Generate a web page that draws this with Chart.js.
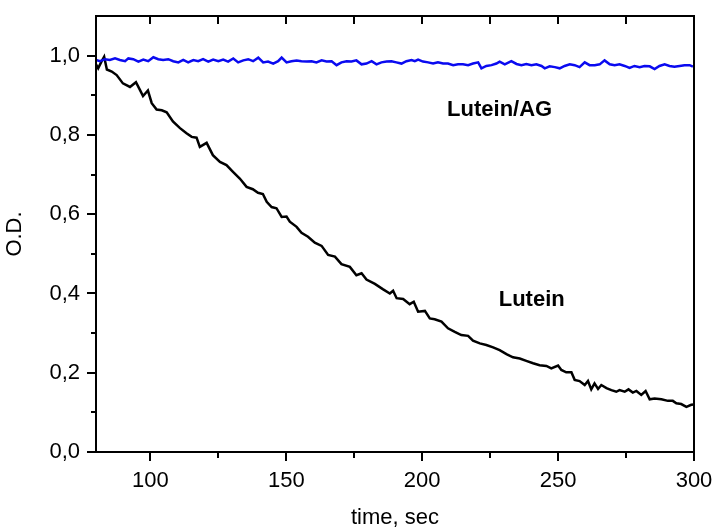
<!DOCTYPE html>
<html>
<head>
<meta charset="utf-8">
<script src="https://cdn.jsdelivr.net/npm/chart.js@4/dist/chart.umd.min.js"></script>
<style>
  body { margin: 0; background: #fff; }
  canvas { display: block; }
</style>
</head>
<body>
<canvas id="chart" width="716" height="531"></canvas>
<script>
// Lutein (black) - time in sec, optical density
var luteinTime = [80.0, 80.8, 82.0, 83.0, 84.0, 85.8, 87.6, 89.9, 92.5, 94.7, 96.2, 97.3, 99.1, 100.5, 102.3, 104.2, 106.0, 108.3, 110.9, 113.3, 115.2, 117.0, 118.2, 120.7, 123.0, 125.6, 128.0, 130.4, 132.9, 135.4, 137.7, 139.6, 141.4, 142.8, 144.6, 146.4, 148.3, 150.1, 151.3, 153.8, 155.6, 158.0, 160.5, 163.0, 165.4, 167.9, 170.3, 173.4, 175.8, 177.7, 179.5, 182.6, 185.5, 188.1, 189.3, 190.6, 193.0, 195.4, 196.9, 198.5, 201.0, 202.8, 204.6, 207.1, 209.5, 212.0, 214.4, 216.9, 218.7, 221.2, 223.6, 226.1, 228.5, 231.0, 233.4, 235.9, 238.3, 240.8, 243.2, 245.7, 247.5, 250.0, 251.2, 253.0, 254.9, 256.1, 257.9, 259.8, 261.0, 262.2, 263.4, 264.7, 265.9, 267.8, 269.6, 271.4, 272.6, 274.5, 275.9, 277.5, 278.8, 280.6, 282.2, 283.7, 285.5, 288.0, 290.4, 292.2, 293.5, 295.3, 297.2, 299.0, 300.0]
var luteinOD = [0.978, 0.968, 0.985, 0.997, 0.965, 0.960, 0.951, 0.930, 0.921, 0.933, 0.913, 0.898, 0.912, 0.880, 0.864, 0.862, 0.857, 0.834, 0.817, 0.804, 0.795, 0.793, 0.770, 0.780, 0.749, 0.732, 0.724, 0.707, 0.690, 0.669, 0.663, 0.654, 0.651, 0.631, 0.618, 0.615, 0.593, 0.594, 0.581, 0.568, 0.553, 0.543, 0.528, 0.520, 0.497, 0.493, 0.474, 0.467, 0.446, 0.451, 0.435, 0.424, 0.411, 0.400, 0.407, 0.388, 0.386, 0.373, 0.379, 0.354, 0.356, 0.337, 0.335, 0.329, 0.312, 0.303, 0.295, 0.293, 0.281, 0.274, 0.270, 0.264, 0.257, 0.247, 0.239, 0.236, 0.230, 0.224, 0.219, 0.217, 0.211, 0.218, 0.207, 0.201, 0.201, 0.182, 0.179, 0.169, 0.179, 0.158, 0.173, 0.159, 0.169, 0.161, 0.156, 0.152, 0.156, 0.152, 0.158, 0.150, 0.154, 0.144, 0.154, 0.133, 0.135, 0.133, 0.129, 0.129, 0.123, 0.121, 0.114, 0.119, 0.120]

// Lutein/AG (blue)
var agTime = [80.0, 81.5, 83.3, 85.1, 87.0, 88.8, 90.7, 91.9, 93.7, 95.6, 97.4, 99.2, 101.1, 102.9, 104.7, 106.6, 108.4, 110.3, 112.1, 113.9, 115.8, 117.6, 119.4, 121.3, 123.1, 125.0, 126.8, 128.6, 130.5, 132.3, 134.2, 136.0, 137.8, 139.7, 141.5, 143.3, 145.2, 147.0, 148.3, 150.1, 151.9, 153.8, 155.6, 157.5, 159.3, 161.1, 163.0, 164.8, 166.7, 168.5, 170.3, 172.2, 174.0, 175.8, 177.7, 179.5, 181.4, 183.2, 185.0, 186.9, 188.7, 190.5, 192.4, 194.2, 196.1, 197.3, 198.5, 200.3, 202.2, 204.0, 205.8, 207.7, 209.5, 211.4, 213.2, 215.0, 216.9, 218.7, 220.6, 221.8, 223.6, 225.5, 227.3, 228.5, 230.4, 232.8, 234.7, 236.5, 238.3, 240.2, 242.0, 243.9, 245.1, 246.9, 248.8, 250.6, 252.4, 254.3, 256.1, 257.9, 259.8, 261.6, 263.5, 265.3, 267.1, 269.0, 270.8, 272.6, 274.5, 276.3, 278.1, 280.0, 281.8, 283.7, 285.5, 287.3, 289.2, 291.0, 292.8, 294.7, 296.5, 298.4, 299.6]
var agOD = [0.989, 0.986, 0.991, 0.989, 0.993, 0.989, 0.986, 0.993, 0.991, 0.985, 0.990, 0.986, 0.996, 0.991, 0.989, 0.991, 0.986, 0.983, 0.989, 0.983, 0.989, 0.986, 0.991, 0.985, 0.990, 0.986, 0.990, 0.985, 0.993, 0.983, 0.988, 0.991, 0.986, 0.995, 0.983, 0.985, 0.980, 0.986, 0.995, 0.983, 0.986, 0.988, 0.986, 0.985, 0.986, 0.983, 0.988, 0.985, 0.986, 0.976, 0.983, 0.986, 0.985, 0.988, 0.978, 0.980, 0.986, 0.978, 0.983, 0.985, 0.986, 0.983, 0.980, 0.986, 0.989, 0.986, 0.990, 0.985, 0.983, 0.980, 0.983, 0.980, 0.980, 0.976, 0.978, 0.978, 0.976, 0.980, 0.983, 0.968, 0.974, 0.976, 0.980, 0.985, 0.978, 0.986, 0.979, 0.976, 0.979, 0.976, 0.978, 0.974, 0.968, 0.973, 0.971, 0.968, 0.974, 0.978, 0.976, 0.971, 0.983, 0.976, 0.976, 0.978, 0.988, 0.978, 0.976, 0.978, 0.974, 0.969, 0.974, 0.971, 0.974, 0.973, 0.966, 0.974, 0.978, 0.974, 0.972, 0.974, 0.976, 0.976, 0.972]

var xTicks = [100, 125, 150, 175, 200, 225, 250, 275, 300]
var xMajor = [100, 150, 200, 250, 300]
var yTicks = [0, 0.1, 0.2, 0.3, 0.4, 0.5, 0.6, 0.7, 0.8, 0.9, 1.0]
var yMajor = [0, 0.2, 0.4, 0.6, 0.8, 1.0]

var notes = [
    { text: 'Lutein/AG', x: 228.5, y: 0.862 },
    { text: 'Lutein', x: 240.3, y: 0.383 }
]

function toPoints(xs, ys) {
    return xs.map((x, i) => ({ x: x, y: ys[i] }))
}

function isMajor(list, v) {
    return list.some(m => Math.abs(m - v) < 1e-6)
}

var frameAndTicks = {
    id: 'frameAndTicks',
    afterDatasetsDraw(chart) {
        var c = chart.ctx
        var a = chart.chartArea
        var sx = chart.scales.x
        var sy = chart.scales.y
        c.save()
        c.strokeStyle = '#000'
        c.lineWidth = 2
        c.strokeRect(a.left, a.top, a.right - a.left, a.bottom - a.top)
        c.beginPath()
        xTicks.forEach(v => {
            var p = Math.round(sx.getPixelForValue(v))
            c.moveTo(p, a.bottom)
            c.lineTo(p, a.bottom + (isMajor(xMajor, v) ? 9 : 6))
            c.moveTo(p, a.top)
            c.lineTo(p, a.top + 8)
        })
        yTicks.forEach(v => {
            var p = Math.round(sy.getPixelForValue(v))
            c.moveTo(a.left, p)
            c.lineTo(a.left - (isMajor(yMajor, v) ? 9 : 5), p)
        })
        c.stroke()
        c.fillStyle = '#000'
        c.font = 'bold 22px "Liberation Sans", Arial, sans-serif'
        c.textAlign = 'center'
        c.textBaseline = 'middle'
        notes.forEach(n => {
            c.fillText(n.text, sx.getPixelForValue(n.x), sy.getPixelForValue(n.y))
        })
        c.restore()
    }
}

var font = { family: '"Liberation Sans", Arial, sans-serif', size: 22 }

new Chart(document.getElementById('chart').getContext('2d'), {
    type: 'line',
    data: {
        datasets: [
            {
                label: 'Lutein/AG',
                data: toPoints(agTime, agOD),
                borderColor: 'rgb(10, 10, 240)',
                borderWidth: 2.5,
                pointRadius: 0,
                tension: 0
            },
            {
                label: 'Lutein',
                data: toPoints(luteinTime, luteinOD),
                borderColor: '#000',
                borderWidth: 2.5,
                pointRadius: 0,
                tension: 0
            }
        ]
    },
    options: {
        responsive: false,
        animation: false,
        layout: { padding: { top: 16, right: 22, left: 0, bottom: 0 } },
        plugins: {
            legend: { display: false },
            tooltip: { enabled: false }
        },
        scales: {
            x: {
                type: 'linear',
                min: 80,
                max: 300,
                afterBuildTicks: s => { s.ticks = xMajor.map(v => ({ value: v })) },
                afterFit: s => {
                    s.height = 79
                    s.paddingLeft = 0
                    s.paddingRight = 0
                },
                grid: { drawOnChartArea: false, drawTicks: false },
                border: { display: false },
                ticks: {
                    color: '#000',
                    font: font,
                    padding: 16,
                    maxRotation: 0,
                    callback: v => String(v)
                },
                title: {
                    display: true,
                    text: 'time, sec',
                    color: '#000',
                    font: font,
                    padding: 0
                }
            },
            y: {
                min: 0,
                max: 1.1,
                afterBuildTicks: s => { s.ticks = yMajor.map(v => ({ value: v })) },
                afterFit: s => {
                    s.width = 96
                    s.paddingTop = 0
                    s.paddingBottom = 0
                },
                grid: { drawOnChartArea: false, drawTicks: false },
                border: { display: false },
                ticks: {
                    color: '#000',
                    font: font,
                    padding: 16,
                    callback: v => v.toFixed(1).replace('.', ',')
                },
                title: {
                    display: true,
                    text: 'O.D.',
                    color: '#000',
                    font: font,
                    padding: 2
                }
            }
        }
    },
    plugins: [frameAndTicks]
})
</script>
</body>
</html>
